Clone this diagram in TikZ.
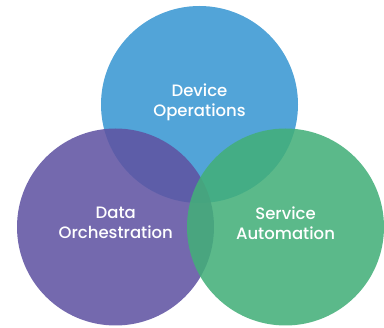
\documentclass[tikz,border=0pt]{standalone}
\usepackage{fontspec}
\setmainfont{Poppins}[UprightFont=* Medium]
\definecolor{cblue}{RGB}{82,164,216}
\definecolor{cpurple}{RGB}{95,83,162}
\definecolor{cgreen}{RGB}{67,175,121}
\tikzset{
  venn/.style={fill opacity=0.87, draw=none},
  lbl/.style={text=white, align=center, inner sep=0pt, anchor=center,
    font=\fontsize{16.5}{20}\selectfont}
}
\begin{document}
\begin{tikzpicture}[x=1pt,y=-1pt]
\useasboundingbox (0,0) rectangle (384,328);
\fill[cblue] (199.5,104.5) circle (98.5);
\fill[cpurple, venn] (115.5,227) circle (98.5);
\fill[cgreen, venn] (285.5,227) circle (98.5);
\node[lbl] (dev) at (199.5,102.8) {Device\\Operations};
\node[lbl] (dat) at (115.8,223) {Data\\Orchestration};
\node[lbl] (ser) at (285.5,223) {Service\\Automation};
\end{tikzpicture}
\end{document}
